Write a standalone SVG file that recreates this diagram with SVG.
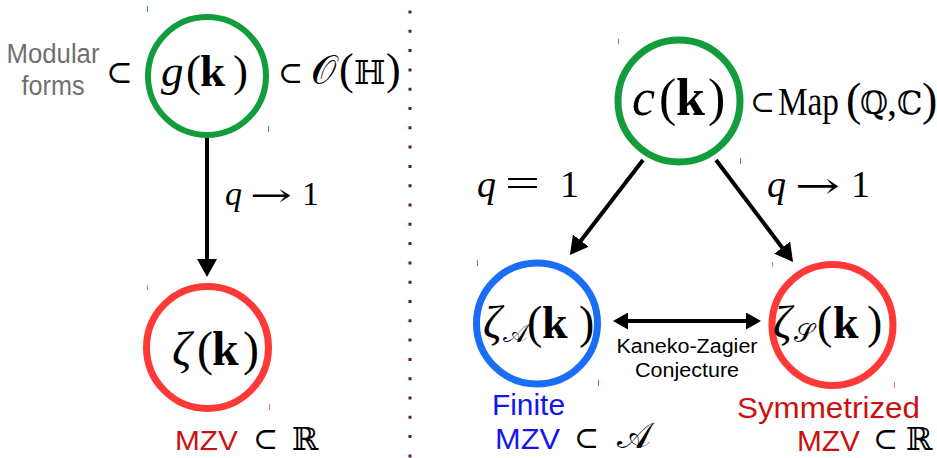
<svg xmlns="http://www.w3.org/2000/svg" width="937" height="458" viewBox="0 0 937 458">
<defs>
<style>
.m{font-family:"Liberation Serif","DejaVu Serif",serif;fill:#000}
.op{font-family:"DejaVu Serif","Liberation Serif",serif;fill:#000}
.s{font-family:"Liberation Sans",Arial,sans-serif}
.i{font-style:italic}
.b{font-weight:bold}
.ring{fill:none}
.arr{stroke:#000;stroke-width:4;fill:none}
.tick{stroke-width:1}
</style>
<marker id="ah" markerUnits="userSpaceOnUse" viewBox="0 0 18 20" markerWidth="18" markerHeight="20" refX="8" refY="10" orient="auto">
<path d="M0,0 L18,10 L0,20 z" fill="#000"/>
</marker>
<marker id="ah2" markerUnits="userSpaceOnUse" viewBox="0 0 15 17" markerWidth="15" markerHeight="17" refX="6" refY="8.5" orient="auto-start-reverse">
<path d="M0,0 L15,8.5 L0,17 z" fill="#000"/>
</marker>
</defs>
<rect width="937" height="458" fill="#fff"/>

<line x1="410" y1="10.5" x2="410" y2="458" stroke="#6a0a6a" stroke-width="3" stroke-dasharray="3 16.3"/>

<g id="connectors">
<line class="arr" x1="207" y1="136" x2="207" y2="267" marker-end="url(#ah)"/>
<line class="arr" x1="643" y1="160" x2="576" y2="247" marker-end="url(#ah)"/>
<line class="arr" x1="716" y1="160" x2="787" y2="254" marker-end="url(#ah)"/>
<line class="arr" x1="622" y1="321" x2="752" y2="321" marker-start="url(#ah2)" marker-end="url(#ah2)"/>
<text class="m i" x="225" y="205" font-size="34">q</text>
<text class="op" x="250" y="206" font-size="32" textLength="42" lengthAdjust="spacingAndGlyphs">→</text>
<text class="m" x="302" y="205" font-size="34">1</text>
<text class="m i" x="477" y="197" font-size="38">q</text>
<text class="m" x="505" y="197" font-size="40" textLength="35" lengthAdjust="spacingAndGlyphs">=</text>
<text class="m" x="560" y="197" font-size="38">1</text>
<text class="m i" x="767" y="197" font-size="38">q</text>
<text class="op" x="795" y="198" font-size="36" textLength="45" lengthAdjust="spacingAndGlyphs">→</text>
<text class="m" x="851" y="197" font-size="38">1</text>
<text class="s" x="687" y="353" font-size="20" text-anchor="middle" textLength="141" lengthAdjust="spacingAndGlyphs">Kaneko-Zagier</text>
<text class="s" x="687" y="377" font-size="20" text-anchor="middle" textLength="104" lengthAdjust="spacingAndGlyphs">Conjecture</text>
</g>

<g id="node-g">
<circle class="ring" cx="207" cy="76" r="59" stroke="#139c3c" stroke-width="6"/>
<text class="m" y="86" font-size="45"><tspan class="i" x="161">g</tspan><tspan x="186">(</tspan><tspan class="b" x="200">k</tspan><tspan x="233">)</tspan></text>
<text class="s" x="53" y="63" font-size="27" text-anchor="middle" fill="#707070" textLength="93" lengthAdjust="spacingAndGlyphs">Modular</text>
<text class="s" x="53" y="95" font-size="27" text-anchor="middle" fill="#707070" textLength="63" lengthAdjust="spacingAndGlyphs">forms</text>
<text class="op" x="106" y="83" font-size="32">⊂</text>
<text class="op" x="278" y="83" font-size="30">⊂</text>
<text class="m" x="311" y="84" font-size="40">𝒪</text>
<text class="m" x="339" y="84" font-size="44">(</text>
<text class="m" x="354" y="84" font-size="33">ℍ</text>
<text class="m" x="386" y="84" font-size="44">)</text>
</g>

<g id="node-zeta">
<circle class="ring" cx="207.5" cy="347.5" r="61" stroke="#ff3838" stroke-width="7"/>
<text class="m" y="365" font-size="48"><tspan class="i" x="172">ζ</tspan><tspan x="197">(</tspan><tspan class="b" x="212">k</tspan><tspan x="243">)</tspan></text>
<text class="s" x="175" y="450" font-size="28" fill="#cc1010" textLength="63" lengthAdjust="spacingAndGlyphs">MZV</text>
<text class="op" x="253" y="449" font-size="30">⊂</text>
<text class="m" x="292" y="450" font-size="32">ℝ</text>
</g>

<g id="node-c">
<circle class="ring" cx="679" cy="101" r="61" stroke="#139c3c" stroke-width="7"/>
<text class="m" y="115" font-size="52"><tspan class="i" x="632">c</tspan><tspan x="659">(</tspan><tspan class="b" x="676">k</tspan><tspan x="708">)</tspan></text>
<text class="op" x="750" y="112" font-size="30">⊂</text>
<text class="m" x="778" y="115" font-size="40" textLength="61" lengthAdjust="spacingAndGlyphs">Map</text>
<text class="m" x="846" y="115" font-size="46">(</text>
<text class="m" x="860" y="114" font-size="32">ℚ</text>
<text class="m" x="887" y="115" font-size="40">,</text>
<text class="m" x="897" y="114" font-size="32">ℂ</text>
<text class="m" x="922" y="115" font-size="46">)</text>
</g>

<g id="node-finite">
<circle class="ring" cx="537" cy="323.5" r="60.5" stroke="#1a6ef5" stroke-width="7"/>
<text class="m i" x="483" y="338" font-size="46">ζ</text>
<text class="m" x="503" y="342" font-size="26">𝒜</text>
<text class="m" y="338" font-size="46"><tspan x="527">(</tspan><tspan class="b" x="542">k</tspan><tspan x="579">)</tspan></text>
<text class="s" x="492" y="415" font-size="29" fill="#1515f0" textLength="73" lengthAdjust="spacingAndGlyphs">Finite</text>
<text class="s" x="495" y="449" font-size="29" fill="#1515f0" textLength="65" lengthAdjust="spacingAndGlyphs">MZV</text>
<text class="op" x="574" y="448" font-size="30">⊂</text>
<text class="m" x="617" y="448" font-size="36">𝒜</text>
</g>

<g id="node-sym">
<circle class="ring" cx="832.5" cy="325" r="60.5" stroke="#ff3838" stroke-width="7"/>
<text class="m i" x="773" y="338" font-size="46">ζ</text>
<text class="m" x="794" y="342" font-size="26">𝒮</text>
<text class="m" y="338" font-size="46"><tspan x="817">(</tspan><tspan class="b" x="833">k</tspan><tspan x="867">)</tspan></text>
<text class="s" x="737" y="418" font-size="30" fill="#cc1010" textLength="183" lengthAdjust="spacingAndGlyphs">Symmetrized</text>
<text class="s" x="797" y="451" font-size="29" fill="#cc1010" textLength="63" lengthAdjust="spacingAndGlyphs">MZV</text>
<text class="op" x="873" y="449" font-size="30">⊂</text>
<text class="m" x="906" y="450" font-size="32">ℝ</text>
</g>

<g id="marks">
<line class="tick" x1="147.5" y1="6" x2="147.5" y2="12" stroke="#2cab55"/>
<line class="tick" x1="268.5" y1="126" x2="268.5" y2="132" stroke="#2cab55"/>
<line class="tick" x1="147.5" y1="285" x2="147.5" y2="290" stroke="#ff6a6a"/>
<line class="tick" x1="269.5" y1="404" x2="269.5" y2="410" stroke="#ff6a6a"/>
<line class="tick" x1="618.5" y1="39" x2="618.5" y2="44" stroke="#2cab55"/>
<line class="tick" x1="740.5" y1="158" x2="740.5" y2="164" stroke="#2cab55"/>
<line class="tick" x1="477.5" y1="260" x2="477.5" y2="266" stroke="#3a7ff5"/>
<line class="tick" x1="598.5" y1="380" x2="598.5" y2="386" stroke="#3a7ff5"/>
<line class="tick" x1="772.5" y1="262" x2="772.5" y2="267" stroke="#ff6a6a"/>
<line class="tick" x1="894.5" y1="382" x2="894.5" y2="388" stroke="#ff6a6a"/>
</g>
</svg>
